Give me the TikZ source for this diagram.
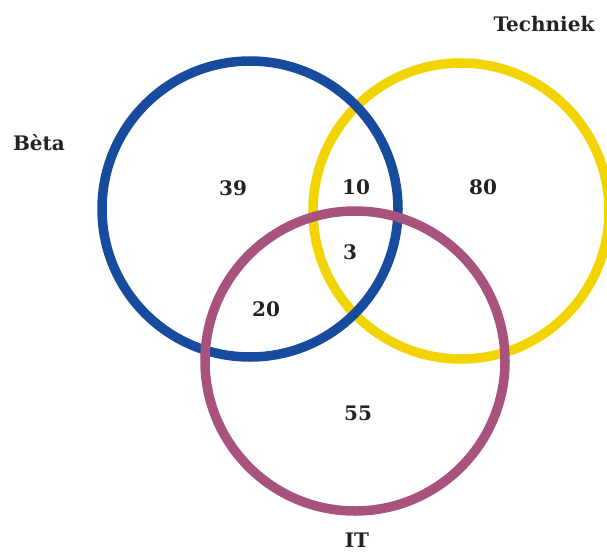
\documentclass[tikz,border=0pt]{standalone}
\usepackage{fontspec}
\setmainfont{DejaVu Serif}
\definecolor{vblue}{HTML}{174B9E}
\definecolor{vyellow}{HTML}{F2D500}
\definecolor{vmag}{HTML}{A8527E}
\definecolor{vtext}{HTML}{222222}
\begin{document}
\begin{tikzpicture}[x=1pt,y=-1pt,
  ring/.style={line width=9.5pt},
  lbl/.style={font=\bfseries\fontsize{20}{24}\selectfont, text=vtext, inner sep=0pt},
  num/.style={font=\bfseries\fontsize{20}{24}\selectfont, text=vtext, inner sep=0pt}]
\useasboundingbox (0,0) rectangle (607,551);
\clip (0,0) rectangle (607,551);
\fill[white] (0,0) rectangle (607,551);
\draw[ring, vyellow] (461,211) circle[radius=148];
\draw[ring, vblue] (250,209) circle[radius=148];
\draw[ring, vmag] (355,361) circle[radius=150];
\node[lbl] (beta) at (39,143) {Bèta};
\node[lbl] (tech) at (544,24) {Techniek};
\node[lbl] (it) at (357,540) {IT};
\node[num] (n39) at (233,188) {39};
\node[num] (n10) at (356,187) {10};
\node[num] (n80) at (483,187) {80};
\node[num] (n3) at (350,252) {3};
\node[num] (n20) at (266,309) {20};
\node[num] (n55) at (358,413) {55};
\end{tikzpicture}
\end{document}
